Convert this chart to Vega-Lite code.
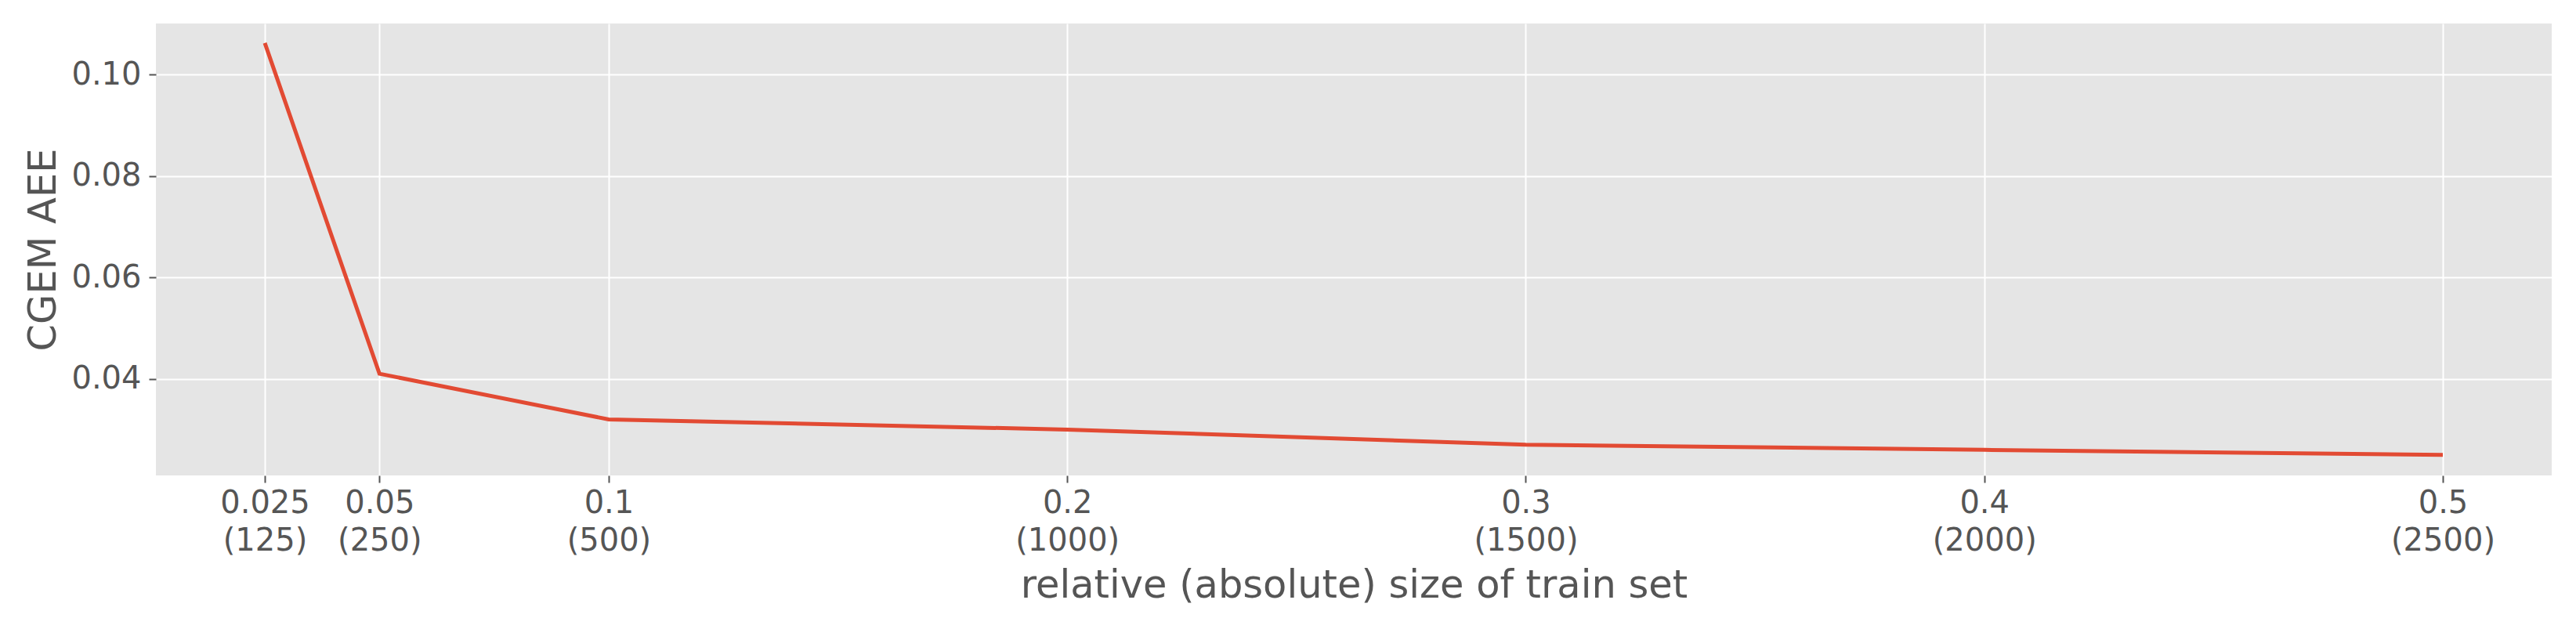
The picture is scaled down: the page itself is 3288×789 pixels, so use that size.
{
  "$schema": "https://vega.github.io/schema/vega-lite/v6.json",
  "width": 3058,
  "height": 577,
  "autosize": {"type": "none"},
  "padding": {"left": 199, "top": 30, "right": 31, "bottom": 182},
  "background": "white",
  "config": {
    "view": {"fill": "#E5E5E5", "stroke": null},
    "font": "DejaVu Sans"
  },
  "data": {
    "values": [
      {"relative": 0.025, "aee": 0.1062},
      {"relative": 0.05, "aee": 0.0410},
      {"relative": 0.1, "aee": 0.0320},
      {"relative": 0.2, "aee": 0.0300},
      {"relative": 0.3, "aee": 0.0270},
      {"relative": 0.4, "aee": 0.0260},
      {"relative": 0.5, "aee": 0.0250}
    ]
  },
  "mark": {"type": "line", "color": "#E24A33", "strokeWidth": 5},
  "encoding": {
    "x": {
      "field": "relative",
      "type": "quantitative",
      "scale": {"domain": [0.00125, 0.52375], "nice": false, "zero": false},
      "axis": {
        "title": "relative (absolute) size of train set",
        "titleFont": "DejaVu Sans",
        "titleFontSize": 49.5,
        "titleFontWeight": "normal",
        "titleColor": "#555555",
        "titlePadding": 13,
        "values": [0.025, 0.05, 0.1, 0.2, 0.3, 0.4, 0.5],
        "labelExpr": "[toString(datum.value), '(' + toString(round(datum.value * 5000)) + ')']",
        "labelFont": "DejaVu Sans",
        "labelFontSize": 40,
        "labelLineHeight": 48,
        "labelColor": "#555555",
        "labelPadding": 6,
        "labelFlush": false,
        "labelOverlap": false,
        "domain": false,
        "ticks": true,
        "tickColor": "#555555",
        "tickSize": 9,
        "tickWidth": 2,
        "grid": true,
        "gridColor": "#FFFFFF",
        "gridWidth": 2,
        "gridOpacity": 1
      }
    },
    "y": {
      "field": "aee",
      "type": "quantitative",
      "scale": {"domain": [0.02095, 0.11005], "nice": false, "zero": false},
      "axis": {
        "title": "CGEM AEE",
        "titleFont": "DejaVu Sans",
        "titleFontSize": 49.5,
        "titleFontWeight": "normal",
        "titleColor": "#555555",
        "titlePadding": 10,
        "values": [0.04, 0.06, 0.08, 0.10],
        "format": ".2f",
        "labelFont": "DejaVu Sans",
        "labelFontSize": 40,
        "labelColor": "#555555",
        "labelPadding": 10,
        "labelOverlap": false,
        "domain": false,
        "ticks": true,
        "tickColor": "#555555",
        "tickSize": 9,
        "tickWidth": 2,
        "grid": true,
        "gridColor": "#FFFFFF",
        "gridWidth": 2,
        "gridOpacity": 1
      }
    }
  }
}
